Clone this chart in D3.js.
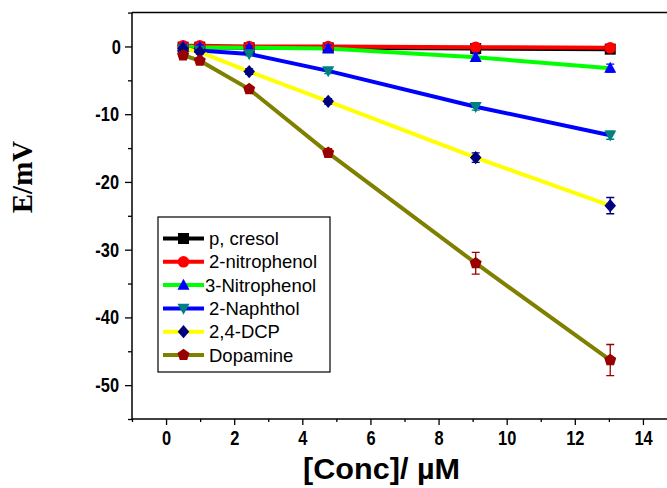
<!DOCTYPE html>
<html><head><meta charset="utf-8">
<script src="https://cdn.jsdelivr.net/npm/d3@7"></script>
<style>body{margin:0;background:#fff}svg{display:block}
.cond{transform-box:fill-box;transform-origin:center;transform:scaleX(0.8)}
</style>
</head><body>
<svg id="c" width="667" height="488"></svg>
<script>
const conc = [0.5, 0.99, 2.44, 4.76, 9.09, 13.04];
const seriesNames = ["p, cresol", "2-nitrophenol", "3-Nitrophenol", "2-Naphthol", "2,4-DCP", "Dopamine"];
const pCresol      = [-0.1, -0.1, -0.2, -0.2, -0.3, -0.4];
const nitrophenol2 = [0.1, 0.1, 0.0, 0.0, -0.1, -0.2];
const nitrophenol3 = [0.0, -0.1, -0.2, -0.3, -1.6, -3.2];
const naphthol     = [-0.4, -0.6, -1.1, -3.6, -8.9, -13.1];
const dcp          = [-0.3, -0.8, -3.7, -8.1, -16.4, -23.5];
const dopamine     = [-1.3, -2.1, -6.3, -15.7, -32.0, -46.3];
const errPCresol = [0.3, 0.3, 0.3, 0.3, 0.4, 0.4];
const errNitro2  = [0.3, 0.3, 0.3, 0.3, 0.4, 0.4];
const errNitro3  = [0.3, 0.3, 0.3, 0.5, 0.5, 0.6];
const errNaph    = [0.3, 0.3, 0.3, 0.4, 0.5, 0.6];
const errDcp     = [0.3, 0.3, 0.4, 0.4, 0.7, 1.2];
const errDop     = [0.3, 0.3, 0.4, 0.6, 1.6, 2.3];
const xTicks = [0, 2, 4, 6, 8, 10, 12, 14];
const yTicks = [0, -10, -20, -30, -40, -50];

const lineColors   = ["#000000", "#ff0000", "#00ff00", "#0000ff", "#ffff00", "#808000"];
const markerColors = ["#000000", "#ff0000", "#0000ff", "#008080", "#000080", "#990000"];
const markerTypes  = ["square", "circle", "triangle", "triangleDown", "diamond", "pentagon"];
const allValues = [pCresol, nitrophenol2, nitrophenol3, naphthol, dcp, dopamine];
const allErrors = [errPCresol, errNitro2, errNitro3, errNaph, errDcp, errDop];

const svg = d3.select("#c");
const x = d3.scaleLinear().domain([-1, 15]).range([132, 677]);
const y = d3.scaleLinear().domain([-55, 5]).range([419, 12.6]);

function markerPath(type, s) {
  const r = s / 2;
  switch (type) {
    case "square": return `M${-r},${-r}h${s}v${s}h${-s}Z`;
    case "circle": return d3.symbol(d3.symbolCircle, Math.PI * r * r * 1.1)();
    case "triangle": return `M0,${-r*1.15}L${r*1.1},${r*0.85}L${-r*1.1},${r*0.85}Z`;
    case "triangleDown": return `M0,${r*1.15}L${r*1.1},${-r*0.85}L${-r*1.1},${-r*0.85}Z`;
    case "diamond": return `M0,${-r*1.2}L${r*1.05},0L0,${r*1.2}L${-r*1.05},0Z`;
    case "pentagon": {
      const pts = d3.range(5).map(i => { const a = -Math.PI/2 + i*2*Math.PI/5; return [Math.cos(a)*r*1.15, Math.sin(a)*r*1.15]; });
      return "M" + pts.map(p => p.join(",")).join("L") + "Z";
    }
  }
}

svg.append("line").attr("x1", 132).attr("x2", 667).attr("y1", y(5)).attr("y2", y(5)).attr("stroke", "#000").attr("stroke-width", 1.5);

const fmt = d => String(d);
const xAxis = d3.axisBottom(x).tickValues(xTicks).tickSize(6).tickPadding(5).tickFormat(fmt);
const xAx = svg.append("g").attr("transform", `translate(0,${y(-55)})`).call(xAxis);
xAx.select(".domain").attr("d", `M${x(-1)},0H667`).attr("stroke-width", 1.5);
const xMinor = svg.append("g").attr("transform", `translate(0,${y(-55)})`)
  .call(d3.axisBottom(x).tickValues(d3.range(-1, 15, 2)).tickSize(3).tickFormat(""));
xMinor.select(".domain").remove();

const yAxis = d3.axisLeft(y).tickValues(yTicks).tickSize(7).tickPadding(3).tickFormat(fmt);
const yAx = svg.append("g").attr("transform", `translate(${x(-1)},0)`).call(yAxis);
yAx.select(".domain").attr("d", `M0,${y(5)}V${y(-55)}`).attr("stroke-width", 1.5);
const yMinor = svg.append("g").attr("transform", `translate(${x(-1)},0)`)
  .call(d3.axisLeft(y).tickValues([5, -5, -15, -25, -35, -45, -55]).tickSize(4).tickFormat(""));
yMinor.select(".domain").remove();

svg.selectAll(".tick line").attr("stroke-width", 1.3);
svg.selectAll(".tick text")
  .attr("class", "cond")
  .attr("font-family", "'Liberation Sans',Arial,sans-serif")
  .attr("font-weight", "bold").attr("font-size", 20.5).attr("fill", "#000");

const line = d3.line().x(d => x(d[0])).y(d => y(d[1]));
allValues.forEach((vals, i) => {
  const pts = conc.map((c, j) => [c, vals[j]]);
  svg.append("path").attr("d", line(pts)).attr("fill", "none")
    .attr("stroke", lineColors[i]).attr("stroke-width", 4);
});
allValues.forEach((vals, i) => {
  const gs = svg.append("g");
  conc.forEach((c, j) => {
    const e = allErrors[i][j];
    const cx = x(c), y1 = y(vals[j] + e), y2 = y(vals[j] - e);
    gs.append("path").attr("d", `M${cx},${y1}V${y2}M${cx-4},${y1}H${cx+4}M${cx-4},${y2}H${cx+4}`)
      .attr("stroke", markerColors[i]).attr("stroke-width", 1.3).attr("fill", "none");
    gs.append("path").attr("d", markerPath(markerTypes[i], 11))
      .attr("transform", `translate(${cx},${y(vals[j])})`).attr("fill", markerColors[i]);
  });
});

const lg = svg.append("g");
lg.append("rect").attr("x", 158).attr("y", 217).attr("width", 172).attr("height", 155)
  .attr("fill", "#fff").attr("stroke", "#000").attr("stroke-width", 1.2);
seriesNames.forEach((name, i) => {
  const ly = 238.5 + i * 23.3;
  lg.append("line").attr("x1", 163).attr("x2", 204).attr("y1", ly).attr("y2", ly)
    .attr("stroke", lineColors[i]).attr("stroke-width", 4);
  lg.append("path").attr("d", markerPath(markerTypes[i], 11))
    .attr("transform", `translate(183.5,${ly})`).attr("fill", markerColors[i]);
  lg.append("text").attr("x", i === 2 ? 205 : 209).attr("y", ly + 6.5).text(name)
    .attr("font-family", "'Liberation Sans',Arial,sans-serif").attr("font-size", 18.5).attr("fill", "#000");
});

svg.append("text").attr("x", 303).attr("y", 479)
  .attr("textLength", 157).attr("lengthAdjust", "spacingAndGlyphs")
  .attr("font-family", "'Liberation Sans',Arial,sans-serif")
  .attr("font-weight", "bold").attr("font-size", 29).text("[Conc]/ µM");
svg.append("text").attr("transform", "translate(32,177) rotate(-90)").attr("text-anchor", "middle")
  .attr("font-family", "'Liberation Serif','Times New Roman',serif")
  .attr("font-weight", "bold").attr("font-size", 29).text("E/mV");
</script>
</body></html>
